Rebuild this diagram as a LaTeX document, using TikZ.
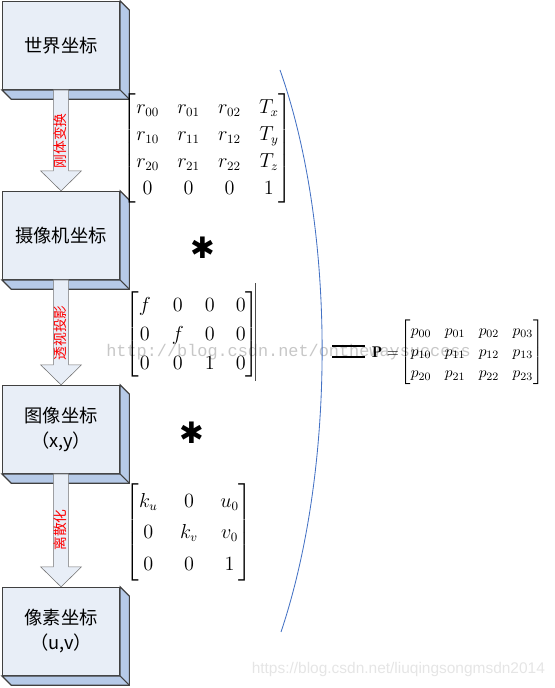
\documentclass[tikz,border=0pt]{standalone}
\usepackage{fontspec}
\usepackage{amsmath}
\usepackage{xcolor}
\usepackage{tikz}
\usetikzlibrary{calc}
\usetikzlibrary{positioning}
\newfontfamily\cjk{Noto Sans CJK SC}
\newfontfamily\symfont{DejaVu Sans}
\newfontfamily\wmmono{Liberation Mono}
\newfontfamily\wmsans{Liberation Sans}
\definecolor{faceblue}{RGB}{232,238,247}
\definecolor{sideblue}{RGB}{182,202,232}
\definecolor{curveblue}{RGB}{68,114,196}
\tikzset{
  coordbox/.style={rectangle, draw=black!75, thick, fill=faceblue, minimum width=2.925cm, minimum height=2.2cm, anchor=south west, align=center, font=\cjk\fontsize{13}{17.7}\selectfont},
  boxside/.style={draw=black!75, thick, fill=sideblue},
  bigarrow/.style={draw=black!55, fill=faceblue},
  steplabel/.style={text=red, rotate=90, inner sep=0pt, font=\cjk\fontsize{9.8}{11}\selectfont},
  mat/.style={inner sep=0pt, font=\fontsize{13.5}{16}\selectfont},
  timesmark/.style={inner sep=0pt, font=\symfont\fontsize{21}{21}\selectfont},
}

\begin{document}
\begin{tikzpicture}

\useasboundingbox (0,0) rectangle (13.85,17.2);

% watermarks
\node at (2.65,8.4) [anchor=west, inner sep=0pt, text=black!22, font=\wmmono\fontsize{12}{14}\selectfont] (wmtop) {http://blog.csdn.net/onthewaysuccess};
\node at (13.63,0.45) [anchor=east, inner sep=0pt, text=black!10, font=\wmsans\fontsize{11}{13}\selectfont] (wmbottom) {https://blog.csdn.net/liuqingsongmsdn2014};

% coordinate systems
\node at (0.05,14.95) [coordbox] (world) {世界坐标};
\node at (0.05,10.2) [coordbox] (camera) {摄像机坐标};
\node at (0.05,5.35) [coordbox] (image) {图像坐标\\（x,y）};
\node at (0.05,0.3) [coordbox] (pixel) {像素坐标\\（u,v）};

\foreach \n in {world,camera,image,pixel} {
  \draw[boxside] (\n.north east) -- ++(0.23,-0.23) -- ($(\n.south east)+(0.23,-0.23)$) -- ($(\n.south west)+(0.23,-0.23)$) -- (\n.south west) -- (\n.south east) -- cycle;
  \draw[boxside] (\n.south east) -- ++(0.23,-0.23);
}

\foreach \a/\b in {world/camera,camera/image,image/pixel} {
  \draw[bigarrow] ($(\a.south)+(-0.19,0)$) -- ($(\b.north)+(-0.19,0.5)$) -- ($(\b.north)+(-0.51,0.5)$) -- (\b.north) -- ($(\b.north)+(0.51,0.5)$) -- ($(\b.north)+(0.19,0.5)$) -- ($(\a.south)+(0.19,0)$) -- cycle;
}

\node at (1.51,13.675) [steplabel] (rigidlbl) {刚体变换};
\node at (1.51,8.875) [steplabel] (persplbl) {透视投影};
\node at (1.51,3.95) [steplabel] (discrlbl) {离散化};

% matrices
\node at (5.19,13.49) [mat] (rigid) {\arraycolsep=6.5pt\renewcommand\arraystretch{1.2}$\begin{bmatrix} r_{00} & r_{01} & r_{02} & T_x\\ r_{10} & r_{11} & r_{12} & T_y\\ r_{20} & r_{21} & r_{22} & T_z\\ 0 & 0 & 0 & 1 \end{bmatrix}$};
\node at (5.075,11.0) [timesmark] (ast1) {✱};
\node at (4.81,8.84) [mat] (persp) {\arraycolsep=7.5pt\renewcommand\arraystretch{1.3}$\begin{bmatrix} f & 0 & 0 & 0\\ 0 & f & 0 & 0\\ 0 & 0 & 1 & 0 \end{bmatrix}$};
\draw[black!70, thick] ($(persp.north east)+(-0.1,0.17)$) -- ($(persp.south east)+(-0.1,-0.07)$);
\node at (4.8,6.375) [timesmark] (ast2) {✱};
\node at (4.725,3.89) [mat] (discr) {\arraycolsep=8pt\renewcommand\arraystretch{1.4}$\begin{bmatrix} k_u & 0 & u_0\\ 0 & k_v & v_0\\ 0 & 0 & 1 \end{bmatrix}$};

\draw[curveblue, line width=0.6pt] (7.0,15.45) .. controls (8.4,11.5) and (8.4,5.5) .. (7.025,1.4);

\draw[line width=1.4pt] (8.3,8.55) -- (9.125,8.55);
\draw[line width=1.4pt] (8.3,8.275) -- (9.125,8.275);

\node at (11.8,8.39) [mat, font=\fontsize{11}{15}\selectfont] (pmat) {\arraycolsep=4.8pt$\begin{bmatrix} p_{00} & p_{01} & p_{02} & p_{03}\\ p_{10} & p_{11} & p_{12} & p_{13}\\ p_{20} & p_{21} & p_{22} & p_{23} \end{bmatrix}$};
\node [left=1pt of pmat, inner sep=0pt, font=\fontsize{11}{13}\selectfont] (plabel) {$\mathbf{P}=$};

\end{tikzpicture}
\end{document}
